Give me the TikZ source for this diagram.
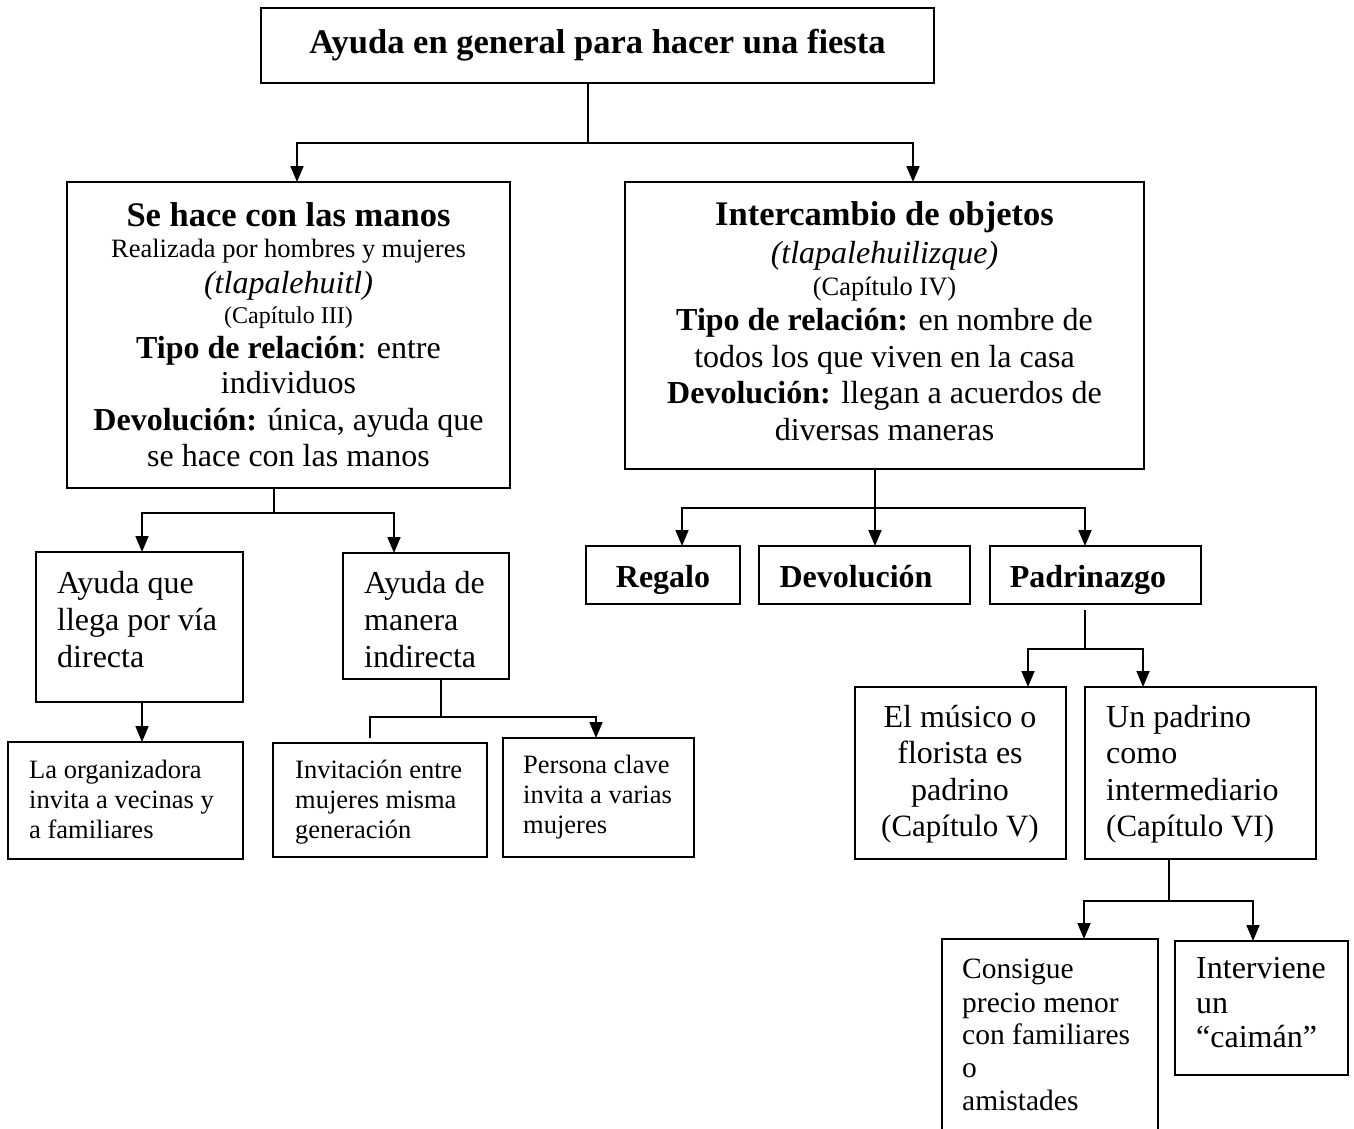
\documentclass[tikz,border=0pt]{standalone}
\usepackage{fontspec}
\setmainfont{Liberation Serif}
\usetikzlibrary{arrows.meta}
\newcommand\myfs[1]{\fontsize{#1pt}{#1pt}\selectfont}
\begin{document}
\begin{tikzpicture}[x=1pt,y=-1pt,
  box/.style={draw, line width=2.2pt, inner sep=0pt, outer sep=0pt, anchor=north west},
  conn/.style={line width=1.7pt},
  arr/.style={conn, -{Triangle[length=16pt,width=13pt]}},
  txt/.style={inner sep=0pt, anchor=base},
  txl/.style={inner sep=0pt, anchor=base west},
  hd/.style={font=\myfs{34.5}\bfseries},
  bd/.style={font=\myfs{32}},
  sm/.style={font=\myfs{26.5}},
  sb/.style={font=\myfs{32}\bfseries},
]
\useasboundingbox (0,0) rectangle (1354,1128);

% boxes
\node[box, line width=2.6pt, minimum width=673, minimum height=75] (title) at (261,8) {};
\node[box, minimum width=443, minimum height=306] (sehace) at (67,182) {};
\node[box, minimum width=519, minimum height=287] (inter) at (625,182) {};
\node[box, minimum width=207, minimum height=150] (ayq) at (36,552) {};
\node[box, minimum width=166, minimum height=126] (aym) at (343,553) {};
\node[box, minimum width=235, minimum height=117] (org) at (8,742) {};
\node[box, minimum width=214, minimum height=114] (invi) at (273,743) {};
\node[box, minimum width=191, minimum height=119] (pers) at (503,738) {};
\node[box, minimum width=154, minimum height=58] (reg) at (586,546) {};
\node[box, minimum width=211, minimum height=58] (dev) at (759,546) {};
\node[box, minimum width=211, minimum height=58] (pad) at (990,546) {};
\node[box, minimum width=211, minimum height=172] (mus) at (855,687) {};
\node[box, minimum width=231, minimum height=172] (unp) at (1085,687) {};
\node[box, minimum width=216, minimum height=200] (cons) at (942,939) {};
\node[box, minimum width=173, minimum height=134] (intv) at (1175,941) {};

% texts
\node[txt, hd] (tt) at (597.5,53) {Ayuda en general para hacer una fiesta};

\node[txt, hd] (s1) at (288.5,226) {Se hace con las manos};
\node[txt, sm] (s2) at (288.5,257) {Realizada por hombres y mujeres};
\node[txt, font=\myfs{32}\itshape] (s3) at (288.5,293) {(tlapalehuitl)};
\node[txt, font=\myfs{24}] (s4) at (288.5,323) {(Capítulo III)};
\node[txt, bd] (s5) at (288.5,358) {\textbf{Tipo de relación}: entre};
\node[txt, bd] (s6) at (288.5,393) {individuos};
\node[txt, bd] (s7) at (288.5,430) {\textbf{Devolución:} única, ayuda que};
\node[txt, bd] (s8) at (288.5,466) {se hace con las manos};

\node[txt, hd] (i1) at (884.5,225) {Intercambio de objetos};
\node[txt, font=\myfs{32}\itshape] (i2) at (884.5,263) {(tlapalehuilizque)};
\node[txt, sm] (i3) at (884.5,295) {(Capítulo IV)};
\node[txt, bd] (i4) at (884.5,330) {\textbf{Tipo de relación:} en nombre de};
\node[txt, bd] (i5) at (884.5,367) {todos los que viven en la casa};
\node[txt, bd] (i6) at (884.5,403) {\textbf{Devolución:} llegan a acuerdos de};
\node[txt, bd] (i7) at (884.5,440) {diversas maneras};

\node[txl, bd] (a1) at (57,593) {Ayuda que};
\node[txl, bd] (a2) at (57,630) {llega por vía};
\node[txl, bd] (a3) at (57,667) {directa};

\node[txl, bd] (m1) at (364,593) {Ayuda de};
\node[txl, bd] (m2) at (364,630) {manera};
\node[txl, bd] (m3) at (364,667) {indirecta};

\node[txl, sm] (o1) at (29,778) {La organizadora};
\node[txl, sm] (o2) at (29,808) {invita a vecinas y};
\node[txl, sm] (o3) at (29,838) {a familiares};

\node[txl, sm] (v1) at (295,778) {Invitación entre};
\node[txl, sm] (v2) at (295,808) {mujeres misma};
\node[txl, sm] (v3) at (295,838) {generación};

\node[txl, sm] (p1) at (523,773) {Persona clave};
\node[txl, sm] (p2) at (523,803) {invita a varias};
\node[txl, sm] (p3) at (523,833) {mujeres};

\node[txt, sb] (r1) at (663,587) {Regalo};
\node[txt, sb] (d1) at (856,587) {Devolución};
\node[txt, sb] (z1) at (1088,587) {Padrinazgo};

\node[txt, bd] (u1) at (960,727) {El músico o};
\node[txt, bd] (u2) at (960,763) {florista es};
\node[txt, bd] (u3) at (960,800) {padrino};
\node[txt, font=\myfs{31}] (u4) at (960,836) {(Capítulo V)};

\node[txl, bd] (n1) at (1106,727) {Un padrino};
\node[txl, bd] (n2) at (1106,763) {como};
\node[txl, bd] (n3) at (1106,800) {intermediario};
\node[txl, font=\myfs{31}] (n4) at (1106,836) {(Capítulo VI)};

\node[txl, font=\myfs{29.5}] (c1) at (962,978) {Consigue};
\node[txl, font=\myfs{29.5}] (c2) at (962,1012) {precio menor};
\node[txl, font=\myfs{29.5}] (c3) at (962,1044) {con familiares};
\node[txl, font=\myfs{29.5}] (c4) at (962,1077) {o};
\node[txl, font=\myfs{29.5}] (c5) at (962,1110) {amistades};

\node[txl, bd] (w1) at (1196,978) {Interviene};
\node[txl, bd] (w2) at (1196,1013) {un};
\node[txl, bd] (w3) at (1196,1047) {“caimán”};

% connectors
\coordinate (j1) at (588,143);
\coordinate (e1) at (297,182);
\coordinate (e2) at (913,182);
\draw[conn] (title.south -| j1) -- (j1);
\draw[arr] (j1) -| (e1);
\draw[arr] (j1) -| (e2);

\coordinate (j2) at (274,513);
\coordinate (e3) at (142,552);
\coordinate (e4) at (394,553);
\draw[conn] (sehace.south -| j2) -- (j2);
\draw[arr] (j2) -| (e3);
\draw[arr] (j2) -| (e4);

\coordinate (e5) at (142,742);
\draw[arr] (ayq.south -| e5) -- (e5);

\coordinate (j3) at (441,717);
\coordinate (e6) at (370,738);
\coordinate (e7) at (596,738);
\draw[conn] (aym.south -| j3) -- (j3);
\draw[conn] (j3) -| (e6);
\draw[arr] (j3) -| (e7);

\coordinate (j4) at (875,508);
\coordinate (e8) at (682,546);
\coordinate (e9) at (875,546);
\coordinate (e10) at (1085,546);
\draw[conn] (inter.south -| j4) -- (j4);
\draw[arr] (j4) -| (e8);
\draw[arr] (j4) -- (e9);
\draw[arr] (j4) -| (e10);

\coordinate (p0) at (1085,610);
\coordinate (j5) at (1085,649);
\coordinate (e11) at (1028,687);
\coordinate (e12) at (1143,687);
\draw[conn] (p0) -- (j5);
\draw[arr] (j5) -| (e11);
\draw[arr] (j5) -| (e12);

\coordinate (j6) at (1169,901);
\coordinate (e13) at (1084,939);
\coordinate (e14) at (1253,941);
\draw[conn] (unp.south -| j6) -- (j6);
\draw[arr] (j6) -| (e13);
\draw[arr] (j6) -| (e14);
\end{tikzpicture}
\end{document}
